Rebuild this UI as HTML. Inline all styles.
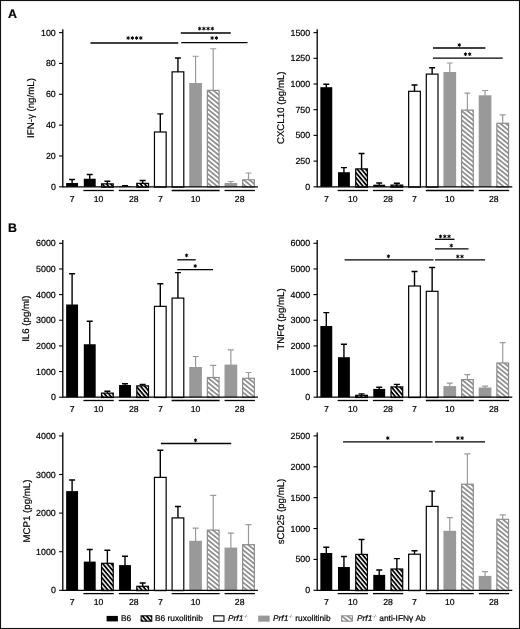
<!DOCTYPE html>
<html><head><meta charset="utf-8"><title>Figure</title>
<style>html,body{margin:0;padding:0;background:#fff;}body{width:520px;height:629px;overflow:hidden;position:relative;font-family:"Liberation Sans", sans-serif;}</style>
</head><body>
<svg width="520" height="629" viewBox="0 0 520 629" style="display:block;position:absolute;left:0;top:0;will-change:transform;filter:blur(0.3px)" font-family='"Liberation Sans", sans-serif' text-rendering="geometricPrecision">
<style>text{stroke:#000;stroke-width:0.2px;paint-order:stroke}</style>
<defs>
<pattern id="hk" patternUnits="userSpaceOnUse" width="10" height="3.25" patternTransform="rotate(50)"><rect width="10" height="3.25" fill="#fff"/><rect y="0" width="10" height="1.8" fill="#000"/></pattern>
<pattern id="hg" patternUnits="userSpaceOnUse" width="10" height="3.6" patternTransform="rotate(39)"><rect width="10" height="3.6" fill="#fff"/><rect y="0" width="10" height="1.65" fill="#888"/></pattern>
</defs>
<rect x="0" y="0" width="520" height="629" fill="#fff"/>
<path d="M72.10 183.50V179.50M69.10 179.50H75.10" stroke="#000" stroke-width="1.4" fill="none"/>
<path d="M89.74 179.25V174.50M86.74 174.50H92.74" stroke="#000" stroke-width="1.4" fill="none"/>
<path d="M107.38 184.25V181.25M104.38 181.25H110.38" stroke="#000" stroke-width="1.4" fill="none"/>
<path d="M125.02 186.70V185.70M122.02 185.70H128.02" stroke="#000" stroke-width="1.4" fill="none"/>
<path d="M142.66 183.75V180.50M139.66 180.50H145.66" stroke="#000" stroke-width="1.4" fill="none"/>
<path d="M160.30 132.40V113.90M157.30 113.90H163.30" stroke="#000" stroke-width="1.4" fill="none"/>
<path d="M177.94 72.25V58.00M174.94 58.00H180.94" stroke="#000" stroke-width="1.4" fill="none"/>
<path d="M195.58 83.50V56.25M192.58 56.25H198.58" stroke="#9a9a9a" stroke-width="1.2" fill="none"/>
<path d="M213.22 90.80V48.75M210.22 48.75H216.22" stroke="#9a9a9a" stroke-width="1.2" fill="none"/>
<path d="M230.86 183.50V181.50M227.86 181.50H233.86" stroke="#9a9a9a" stroke-width="1.2" fill="none"/>
<path d="M248.50 180.20V173.00M245.50 173.00H251.50" stroke="#9a9a9a" stroke-width="1.2" fill="none"/>
<rect x="66.15" y="183.00" width="11.9" height="3.80" fill="#000"/>
<rect x="83.79" y="178.75" width="11.9" height="8.05" fill="#000"/>
<rect x="101.53" y="183.85" width="11.70" height="3.25" fill="url(#hk)" stroke="#000" stroke-width="1.2"/>
<rect x="119.07" y="186.20" width="11.9" height="0.60" fill="#000"/>
<rect x="136.81" y="183.35" width="11.70" height="3.75" fill="url(#hk)" stroke="#000" stroke-width="1.2"/>
<rect x="154.45" y="132.00" width="11.70" height="55.10" fill="#fff" stroke="#000" stroke-width="1.2"/>
<rect x="172.09" y="71.85" width="11.70" height="115.25" fill="#fff" stroke="#000" stroke-width="1.2"/>
<rect x="189.23" y="83.00" width="12.7" height="103.80" fill="#999"/>
<rect x="207.37" y="90.40" width="11.70" height="96.70" fill="url(#hg)" stroke="#8c8c8c" stroke-width="1.2"/>
<rect x="224.51" y="183.00" width="12.7" height="3.80" fill="#999"/>
<rect x="242.65" y="179.80" width="11.70" height="7.30" fill="url(#hg)" stroke="#8c8c8c" stroke-width="1.2"/>
<path d="M62.8 29.20V187.45M62.15 186.8H257.9" stroke="#000" stroke-width="1.3" fill="none"/>
<path d="M59.10 186.80H62.8" stroke="#000" stroke-width="1.1"/>
<text x="55.80" y="189.80" font-size="8.85" text-anchor="end" fill="#000">0</text>
<path d="M59.10 155.96H62.8" stroke="#000" stroke-width="1.1"/>
<text x="55.80" y="158.96" font-size="8.85" text-anchor="end" fill="#000">20</text>
<path d="M59.10 125.12H62.8" stroke="#000" stroke-width="1.1"/>
<text x="55.80" y="128.12" font-size="8.85" text-anchor="end" fill="#000">40</text>
<path d="M59.10 94.28H62.8" stroke="#000" stroke-width="1.1"/>
<text x="55.80" y="97.28" font-size="8.85" text-anchor="end" fill="#000">60</text>
<path d="M59.10 63.44H62.8" stroke="#000" stroke-width="1.1"/>
<text x="55.80" y="66.44" font-size="8.85" text-anchor="end" fill="#000">80</text>
<path d="M59.10 32.60H62.8" stroke="#000" stroke-width="1.1"/>
<text x="55.80" y="35.60" font-size="8.85" text-anchor="end" fill="#000">100</text>
<text transform="translate(33.8,108) rotate(-90)" font-size="9.7" text-anchor="middle" fill="#000">IFN-γ (ng/mL)</text>
<path d="M83.44 190.50H113.78" stroke="#000" stroke-width="1.3"/>
<path d="M118.72 190.50H149.06" stroke="#000" stroke-width="1.3"/>
<path d="M171.64 190.50H219.62" stroke="#000" stroke-width="1.3"/>
<path d="M224.56 190.50H254.90" stroke="#000" stroke-width="1.3"/>
<text x="72.10" y="201.70" font-size="8.7" text-anchor="middle" fill="#000">7</text>
<text x="98.56" y="201.70" font-size="8.7" text-anchor="middle" fill="#000">10</text>
<text x="133.84" y="201.70" font-size="8.7" text-anchor="middle" fill="#000">28</text>
<text x="160.30" y="201.70" font-size="8.7" text-anchor="middle" fill="#000">7</text>
<text x="195.58" y="201.70" font-size="8.7" text-anchor="middle" fill="#000">10</text>
<text x="239.68" y="201.70" font-size="8.7" text-anchor="middle" fill="#000">28</text>
<path d="M90.5 43H178.25" stroke="#000" stroke-width="1.3"/>
<path d="M128.16 36.55V39.45M126.91 37.28L129.41 38.72M126.91 38.72L129.41 37.28" stroke="#000" stroke-width="1.0" stroke-linecap="round" fill="none"/>
<path d="M132.38 36.55V39.45M131.13 37.28L133.63 38.72M131.13 38.72L133.63 37.28" stroke="#000" stroke-width="1.0" stroke-linecap="round" fill="none"/>
<path d="M136.62 36.55V39.45M135.37 37.28L137.87 38.72M135.37 38.72L137.87 37.28" stroke="#000" stroke-width="1.0" stroke-linecap="round" fill="none"/>
<path d="M140.84 36.55V39.45M139.59 37.28L142.09 38.72M139.59 38.72L142.09 37.28" stroke="#000" stroke-width="1.0" stroke-linecap="round" fill="none"/>
<path d="M180.75 33.0H230.75" stroke="#000" stroke-width="1.3"/>
<path d="M199.66 27.15V30.05M198.41 27.88L200.91 29.32M198.41 29.32L200.91 27.88" stroke="#000" stroke-width="1.0" stroke-linecap="round" fill="none"/>
<path d="M203.88 27.15V30.05M202.63 27.88L205.13 29.32M202.63 29.32L205.13 27.88" stroke="#000" stroke-width="1.0" stroke-linecap="round" fill="none"/>
<path d="M208.12 27.15V30.05M206.87 27.88L209.37 29.32M206.87 29.32L209.37 27.88" stroke="#000" stroke-width="1.0" stroke-linecap="round" fill="none"/>
<path d="M212.34 27.15V30.05M211.09 27.88L213.59 29.32M211.09 29.32L213.59 27.88" stroke="#000" stroke-width="1.0" stroke-linecap="round" fill="none"/>
<path d="M181.25 42.7H247.5" stroke="#000" stroke-width="1.3"/>
<path d="M212.13 36.55V39.45M210.88 37.28L213.38 38.72M210.88 38.72L213.38 37.28" stroke="#000" stroke-width="1.0" stroke-linecap="round" fill="none"/>
<path d="M216.37 36.55V39.45M215.12 37.28L217.62 38.72M215.12 38.72L217.62 37.28" stroke="#000" stroke-width="1.0" stroke-linecap="round" fill="none"/>
<path d="M326.30 87.70V84.30M323.30 84.30H329.30" stroke="#000" stroke-width="1.4" fill="none"/>
<path d="M343.94 172.70V167.60M340.94 167.60H346.94" stroke="#000" stroke-width="1.4" fill="none"/>
<path d="M361.58 169.30V153.50M358.58 153.50H364.58" stroke="#000" stroke-width="1.4" fill="none"/>
<path d="M379.22 185.20V183.00M376.22 183.00H382.22" stroke="#000" stroke-width="1.4" fill="none"/>
<path d="M396.86 185.50V183.30M393.86 183.30H399.86" stroke="#000" stroke-width="1.4" fill="none"/>
<path d="M414.50 91.70V85.00M411.50 85.00H417.50" stroke="#000" stroke-width="1.4" fill="none"/>
<path d="M432.14 74.50V67.70M429.14 67.70H435.14" stroke="#000" stroke-width="1.4" fill="none"/>
<path d="M449.78 72.50V63.00M446.78 63.00H452.78" stroke="#9a9a9a" stroke-width="1.2" fill="none"/>
<path d="M467.42 110.50V93.20M464.42 93.20H470.42" stroke="#9a9a9a" stroke-width="1.2" fill="none"/>
<path d="M485.06 95.80V90.50M482.06 90.50H488.06" stroke="#9a9a9a" stroke-width="1.2" fill="none"/>
<path d="M502.70 123.70V114.90M499.70 114.90H505.70" stroke="#9a9a9a" stroke-width="1.2" fill="none"/>
<rect x="320.35" y="87.20" width="11.9" height="99.60" fill="#000"/>
<rect x="337.99" y="172.20" width="11.9" height="14.60" fill="#000"/>
<rect x="355.73" y="168.90" width="11.70" height="18.20" fill="url(#hk)" stroke="#000" stroke-width="1.2"/>
<rect x="373.27" y="184.70" width="11.9" height="2.10" fill="#000"/>
<rect x="391.01" y="185.10" width="11.70" height="2.00" fill="url(#hk)" stroke="#000" stroke-width="1.2"/>
<rect x="408.65" y="91.30" width="11.70" height="95.80" fill="#fff" stroke="#000" stroke-width="1.2"/>
<rect x="426.29" y="74.10" width="11.70" height="113.00" fill="#fff" stroke="#000" stroke-width="1.2"/>
<rect x="443.43" y="72.00" width="12.7" height="114.80" fill="#999"/>
<rect x="461.57" y="110.10" width="11.70" height="77.00" fill="url(#hg)" stroke="#8c8c8c" stroke-width="1.2"/>
<rect x="478.71" y="95.30" width="12.7" height="91.50" fill="#999"/>
<rect x="496.85" y="123.30" width="11.70" height="63.80" fill="url(#hg)" stroke="#8c8c8c" stroke-width="1.2"/>
<path d="M317.2 29.20V187.45M316.55 186.8H512.3" stroke="#000" stroke-width="1.3" fill="none"/>
<path d="M313.50 186.80H317.2" stroke="#000" stroke-width="1.1"/>
<text x="310.20" y="189.80" font-size="8.85" text-anchor="end" fill="#000">0</text>
<path d="M313.50 161.10H317.2" stroke="#000" stroke-width="1.1"/>
<text x="310.20" y="164.10" font-size="8.85" text-anchor="end" fill="#000">250</text>
<path d="M313.50 135.40H317.2" stroke="#000" stroke-width="1.1"/>
<text x="310.20" y="138.40" font-size="8.85" text-anchor="end" fill="#000">500</text>
<path d="M313.50 109.70H317.2" stroke="#000" stroke-width="1.1"/>
<text x="310.20" y="112.70" font-size="8.85" text-anchor="end" fill="#000">750</text>
<path d="M313.50 84.00H317.2" stroke="#000" stroke-width="1.1"/>
<text x="310.20" y="87.00" font-size="8.85" text-anchor="end" fill="#000">1000</text>
<path d="M313.50 58.30H317.2" stroke="#000" stroke-width="1.1"/>
<text x="310.20" y="61.30" font-size="8.85" text-anchor="end" fill="#000">1250</text>
<path d="M313.50 32.60H317.2" stroke="#000" stroke-width="1.1"/>
<text x="310.20" y="35.60" font-size="8.85" text-anchor="end" fill="#000">1500</text>
<text transform="translate(284.3,107.75) rotate(-90)" font-size="9.7" text-anchor="middle" fill="#000">CXCL10 (pg/mL)</text>
<path d="M337.64 190.50H367.98" stroke="#000" stroke-width="1.3"/>
<path d="M372.92 190.50H403.26" stroke="#000" stroke-width="1.3"/>
<path d="M425.84 190.50H473.82" stroke="#000" stroke-width="1.3"/>
<path d="M478.76 190.50H509.10" stroke="#000" stroke-width="1.3"/>
<text x="326.30" y="201.70" font-size="8.7" text-anchor="middle" fill="#000">7</text>
<text x="352.76" y="201.70" font-size="8.7" text-anchor="middle" fill="#000">10</text>
<text x="388.04" y="201.70" font-size="8.7" text-anchor="middle" fill="#000">28</text>
<text x="414.50" y="201.70" font-size="8.7" text-anchor="middle" fill="#000">7</text>
<text x="449.78" y="201.70" font-size="8.7" text-anchor="middle" fill="#000">10</text>
<text x="493.88" y="201.70" font-size="8.7" text-anchor="middle" fill="#000">28</text>
<path d="M433 48H485.4" stroke="#000" stroke-width="1.3"/>
<path d="M459.30 43.55V46.45M458.05 44.28L460.55 45.72M458.05 45.72L460.55 44.28" stroke="#000" stroke-width="1.0" stroke-linecap="round" fill="none"/>
<path d="M433 58.2H502.7" stroke="#000" stroke-width="1.3"/>
<path d="M465.49 52.75V55.65M464.24 53.48L466.74 54.92M464.24 54.92L466.74 53.48" stroke="#000" stroke-width="1.0" stroke-linecap="round" fill="none"/>
<path d="M469.72 52.75V55.65M468.47 53.48L470.97 54.92M468.47 54.92L470.97 53.48" stroke="#000" stroke-width="1.0" stroke-linecap="round" fill="none"/>
<path d="M72.10 305.00V273.75M69.10 273.75H75.10" stroke="#000" stroke-width="1.4" fill="none"/>
<path d="M89.74 344.75V321.25M86.74 321.25H92.74" stroke="#000" stroke-width="1.4" fill="none"/>
<path d="M107.38 393.50V391.25M104.38 391.25H110.38" stroke="#000" stroke-width="1.4" fill="none"/>
<path d="M125.02 385.50V383.75M122.02 383.75H128.02" stroke="#000" stroke-width="1.4" fill="none"/>
<path d="M142.66 386.25V384.50M139.66 384.50H145.66" stroke="#000" stroke-width="1.4" fill="none"/>
<path d="M160.30 306.75V283.75M157.30 283.75H163.30" stroke="#000" stroke-width="1.4" fill="none"/>
<path d="M177.94 298.50V272.60M174.94 272.60H180.94" stroke="#000" stroke-width="1.4" fill="none"/>
<path d="M195.58 367.50V356.50M192.58 356.50H198.58" stroke="#9a9a9a" stroke-width="1.2" fill="none"/>
<path d="M213.22 377.90V365.40M210.22 365.40H216.22" stroke="#9a9a9a" stroke-width="1.2" fill="none"/>
<path d="M230.86 365.10V349.80M227.86 349.80H233.86" stroke="#9a9a9a" stroke-width="1.2" fill="none"/>
<path d="M248.50 378.70V372.50M245.50 372.50H251.50" stroke="#9a9a9a" stroke-width="1.2" fill="none"/>
<rect x="66.15" y="304.50" width="11.9" height="92.70" fill="#000"/>
<rect x="83.79" y="344.25" width="11.9" height="52.95" fill="#000"/>
<rect x="101.53" y="393.10" width="11.70" height="4.40" fill="url(#hk)" stroke="#000" stroke-width="1.2"/>
<rect x="119.07" y="385.00" width="11.9" height="12.20" fill="#000"/>
<rect x="136.81" y="385.85" width="11.70" height="11.65" fill="url(#hk)" stroke="#000" stroke-width="1.2"/>
<rect x="154.45" y="306.35" width="11.70" height="91.15" fill="#fff" stroke="#000" stroke-width="1.2"/>
<rect x="172.09" y="298.10" width="11.70" height="99.40" fill="#fff" stroke="#000" stroke-width="1.2"/>
<rect x="189.23" y="367.00" width="12.7" height="30.20" fill="#999"/>
<rect x="207.37" y="377.50" width="11.70" height="20.00" fill="url(#hg)" stroke="#8c8c8c" stroke-width="1.2"/>
<rect x="224.51" y="364.60" width="12.7" height="32.60" fill="#999"/>
<rect x="242.65" y="378.30" width="11.70" height="19.20" fill="url(#hg)" stroke="#8c8c8c" stroke-width="1.2"/>
<path d="M62.8 239.90V397.85M62.15 397.2H257.9" stroke="#000" stroke-width="1.3" fill="none"/>
<path d="M59.10 397.20H62.8" stroke="#000" stroke-width="1.1"/>
<text x="55.80" y="400.20" font-size="8.85" text-anchor="end" fill="#000">0</text>
<path d="M59.10 371.55H62.8" stroke="#000" stroke-width="1.1"/>
<text x="55.80" y="374.55" font-size="8.85" text-anchor="end" fill="#000">1000</text>
<path d="M59.10 345.90H62.8" stroke="#000" stroke-width="1.1"/>
<text x="55.80" y="348.90" font-size="8.85" text-anchor="end" fill="#000">2000</text>
<path d="M59.10 320.25H62.8" stroke="#000" stroke-width="1.1"/>
<text x="55.80" y="323.25" font-size="8.85" text-anchor="end" fill="#000">3000</text>
<path d="M59.10 294.60H62.8" stroke="#000" stroke-width="1.1"/>
<text x="55.80" y="297.60" font-size="8.85" text-anchor="end" fill="#000">4000</text>
<path d="M59.10 268.95H62.8" stroke="#000" stroke-width="1.1"/>
<text x="55.80" y="271.95" font-size="8.85" text-anchor="end" fill="#000">5000</text>
<path d="M59.10 243.30H62.8" stroke="#000" stroke-width="1.1"/>
<text x="55.80" y="246.30" font-size="8.85" text-anchor="end" fill="#000">6000</text>
<text transform="translate(29.1,318.7) rotate(-90)" font-size="9.7" text-anchor="middle" fill="#000">IL6 (pg/ml)</text>
<path d="M83.44 400.50H113.78" stroke="#000" stroke-width="1.3"/>
<path d="M118.72 400.50H149.06" stroke="#000" stroke-width="1.3"/>
<path d="M171.64 400.50H219.62" stroke="#000" stroke-width="1.3"/>
<path d="M224.56 400.50H254.90" stroke="#000" stroke-width="1.3"/>
<text x="72.10" y="412.10" font-size="8.7" text-anchor="middle" fill="#000">7</text>
<text x="98.56" y="412.10" font-size="8.7" text-anchor="middle" fill="#000">10</text>
<text x="133.84" y="412.10" font-size="8.7" text-anchor="middle" fill="#000">28</text>
<text x="160.30" y="412.10" font-size="8.7" text-anchor="middle" fill="#000">7</text>
<text x="195.58" y="412.10" font-size="8.7" text-anchor="middle" fill="#000">10</text>
<text x="239.68" y="412.10" font-size="8.7" text-anchor="middle" fill="#000">28</text>
<path d="M177.3 259.8H195.7" stroke="#000" stroke-width="1.3"/>
<path d="M186.60 253.95V256.85M185.35 254.68L187.85 256.12M185.35 256.12L187.85 254.68" stroke="#000" stroke-width="1.0" stroke-linecap="round" fill="none"/>
<path d="M177.3 269.7H213" stroke="#000" stroke-width="1.3"/>
<path d="M195.20 264.55V267.45M193.95 265.28L196.45 266.72M193.95 266.72L196.45 265.28" stroke="#000" stroke-width="1.0" stroke-linecap="round" fill="none"/>
<path d="M326.30 326.50V312.60M323.30 312.60H329.30" stroke="#000" stroke-width="1.4" fill="none"/>
<path d="M343.94 357.70V344.30M340.94 344.30H346.94" stroke="#000" stroke-width="1.4" fill="none"/>
<path d="M361.58 395.70V393.90M358.58 393.90H364.58" stroke="#000" stroke-width="1.4" fill="none"/>
<path d="M379.22 389.40V387.30M376.22 387.30H382.22" stroke="#000" stroke-width="1.4" fill="none"/>
<path d="M396.86 387.30V384.40M393.86 384.40H399.86" stroke="#000" stroke-width="1.4" fill="none"/>
<path d="M414.50 286.40V271.50M411.50 271.50H417.50" stroke="#000" stroke-width="1.4" fill="none"/>
<path d="M432.14 291.70V267.50M429.14 267.50H435.14" stroke="#000" stroke-width="1.4" fill="none"/>
<path d="M449.78 386.60V383.20M446.78 383.20H452.78" stroke="#9a9a9a" stroke-width="1.2" fill="none"/>
<path d="M467.42 380.00V374.60M464.42 374.60H470.42" stroke="#9a9a9a" stroke-width="1.2" fill="none"/>
<path d="M485.06 388.00V386.10M482.06 386.10H488.06" stroke="#9a9a9a" stroke-width="1.2" fill="none"/>
<path d="M502.70 363.40V342.60M499.70 342.60H505.70" stroke="#9a9a9a" stroke-width="1.2" fill="none"/>
<rect x="320.35" y="326.00" width="11.9" height="71.20" fill="#000"/>
<rect x="337.99" y="357.20" width="11.9" height="40.00" fill="#000"/>
<rect x="355.73" y="395.30" width="11.70" height="2.20" fill="url(#hk)" stroke="#000" stroke-width="1.2"/>
<rect x="373.27" y="388.90" width="11.9" height="8.30" fill="#000"/>
<rect x="391.01" y="386.90" width="11.70" height="10.60" fill="url(#hk)" stroke="#000" stroke-width="1.2"/>
<rect x="408.65" y="286.00" width="11.70" height="111.50" fill="#fff" stroke="#000" stroke-width="1.2"/>
<rect x="426.29" y="291.30" width="11.70" height="106.20" fill="#fff" stroke="#000" stroke-width="1.2"/>
<rect x="443.43" y="386.10" width="12.7" height="11.10" fill="#999"/>
<rect x="461.57" y="379.60" width="11.70" height="17.90" fill="url(#hg)" stroke="#8c8c8c" stroke-width="1.2"/>
<rect x="478.71" y="387.50" width="12.7" height="9.70" fill="#999"/>
<rect x="496.85" y="363.00" width="11.70" height="34.50" fill="url(#hg)" stroke="#8c8c8c" stroke-width="1.2"/>
<path d="M317.2 239.90V397.85M316.55 397.2H512.3" stroke="#000" stroke-width="1.3" fill="none"/>
<path d="M313.50 397.20H317.2" stroke="#000" stroke-width="1.1"/>
<text x="310.20" y="400.20" font-size="8.85" text-anchor="end" fill="#000">0</text>
<path d="M313.50 371.55H317.2" stroke="#000" stroke-width="1.1"/>
<text x="310.20" y="374.55" font-size="8.85" text-anchor="end" fill="#000">1000</text>
<path d="M313.50 345.90H317.2" stroke="#000" stroke-width="1.1"/>
<text x="310.20" y="348.90" font-size="8.85" text-anchor="end" fill="#000">2000</text>
<path d="M313.50 320.25H317.2" stroke="#000" stroke-width="1.1"/>
<text x="310.20" y="323.25" font-size="8.85" text-anchor="end" fill="#000">3000</text>
<path d="M313.50 294.60H317.2" stroke="#000" stroke-width="1.1"/>
<text x="310.20" y="297.60" font-size="8.85" text-anchor="end" fill="#000">4000</text>
<path d="M313.50 268.95H317.2" stroke="#000" stroke-width="1.1"/>
<text x="310.20" y="271.95" font-size="8.85" text-anchor="end" fill="#000">5000</text>
<path d="M313.50 243.30H317.2" stroke="#000" stroke-width="1.1"/>
<text x="310.20" y="246.30" font-size="8.85" text-anchor="end" fill="#000">6000</text>
<text transform="translate(283.5,319) rotate(-90)" font-size="9.7" text-anchor="middle" fill="#000">TNF<tspan font-size="11.2">α</tspan> (pg/mL)</text>
<path d="M337.64 400.50H367.98" stroke="#000" stroke-width="1.3"/>
<path d="M372.92 400.50H403.26" stroke="#000" stroke-width="1.3"/>
<path d="M425.84 400.50H473.82" stroke="#000" stroke-width="1.3"/>
<path d="M478.76 400.50H509.10" stroke="#000" stroke-width="1.3"/>
<text x="326.30" y="412.10" font-size="8.7" text-anchor="middle" fill="#000">7</text>
<text x="352.76" y="412.10" font-size="8.7" text-anchor="middle" fill="#000">10</text>
<text x="388.04" y="412.10" font-size="8.7" text-anchor="middle" fill="#000">28</text>
<text x="414.50" y="412.10" font-size="8.7" text-anchor="middle" fill="#000">7</text>
<text x="449.78" y="412.10" font-size="8.7" text-anchor="middle" fill="#000">10</text>
<text x="493.88" y="412.10" font-size="8.7" text-anchor="middle" fill="#000">28</text>
<path d="M344.6 259.9H433.6" stroke="#000" stroke-width="1.3"/>
<path d="M388.40 254.85V257.75M387.15 255.58L389.65 257.02M387.15 257.02L389.65 255.58" stroke="#000" stroke-width="1.0" stroke-linecap="round" fill="none"/>
<path d="M435 239.3H454.5" stroke="#000" stroke-width="1.3"/>
<path d="M440.57 234.95V237.85M439.32 235.68L441.82 237.12M439.32 237.12L441.82 235.68" stroke="#000" stroke-width="1.0" stroke-linecap="round" fill="none"/>
<path d="M444.80 234.95V237.85M443.55 235.68L446.05 237.12M443.55 237.12L446.05 235.68" stroke="#000" stroke-width="1.0" stroke-linecap="round" fill="none"/>
<path d="M449.03 234.95V237.85M447.78 235.68L450.28 237.12M447.78 237.12L450.28 235.68" stroke="#000" stroke-width="1.0" stroke-linecap="round" fill="none"/>
<path d="M435 248.9H468.5" stroke="#000" stroke-width="1.3"/>
<path d="M451.30 244.15V247.05M450.05 244.88L452.55 246.32M450.05 246.32L452.55 244.88" stroke="#000" stroke-width="1.0" stroke-linecap="round" fill="none"/>
<path d="M435 259.9H485.1" stroke="#000" stroke-width="1.3"/>
<path d="M457.78 255.05V257.95M456.53 255.78L459.03 257.22M456.53 257.22L459.03 255.78" stroke="#000" stroke-width="1.0" stroke-linecap="round" fill="none"/>
<path d="M462.01 255.05V257.95M460.76 255.78L463.26 257.22M460.76 257.22L463.26 255.78" stroke="#000" stroke-width="1.0" stroke-linecap="round" fill="none"/>
<path d="M72.10 491.60V480.00M69.10 480.00H75.10" stroke="#000" stroke-width="1.4" fill="none"/>
<path d="M89.74 562.10V549.50M86.74 549.50H92.74" stroke="#000" stroke-width="1.4" fill="none"/>
<path d="M107.38 563.70V550.30M104.38 550.30H110.38" stroke="#000" stroke-width="1.4" fill="none"/>
<path d="M125.02 565.60V556.20M122.02 556.20H128.02" stroke="#000" stroke-width="1.4" fill="none"/>
<path d="M142.66 586.70V583.00M139.66 583.00H145.66" stroke="#000" stroke-width="1.4" fill="none"/>
<path d="M160.30 477.80V450.30M157.30 450.30H163.30" stroke="#000" stroke-width="1.4" fill="none"/>
<path d="M177.94 518.30V506.50M174.94 506.50H180.94" stroke="#000" stroke-width="1.4" fill="none"/>
<path d="M195.58 541.30V528.10M192.58 528.10H198.58" stroke="#9a9a9a" stroke-width="1.2" fill="none"/>
<path d="M213.22 530.50V495.40M210.22 495.40H216.22" stroke="#9a9a9a" stroke-width="1.2" fill="none"/>
<path d="M230.86 548.10V533.20M227.86 533.20H233.86" stroke="#9a9a9a" stroke-width="1.2" fill="none"/>
<path d="M248.50 545.10V524.60M245.50 524.60H251.50" stroke="#9a9a9a" stroke-width="1.2" fill="none"/>
<rect x="66.15" y="491.10" width="11.9" height="99.20" fill="#000"/>
<rect x="83.79" y="561.60" width="11.9" height="28.70" fill="#000"/>
<rect x="101.53" y="563.30" width="11.70" height="27.30" fill="url(#hk)" stroke="#000" stroke-width="1.2"/>
<rect x="119.07" y="565.10" width="11.9" height="25.20" fill="#000"/>
<rect x="136.81" y="586.30" width="11.70" height="4.30" fill="url(#hk)" stroke="#000" stroke-width="1.2"/>
<rect x="154.45" y="477.40" width="11.70" height="113.20" fill="#fff" stroke="#000" stroke-width="1.2"/>
<rect x="172.09" y="517.90" width="11.70" height="72.70" fill="#fff" stroke="#000" stroke-width="1.2"/>
<rect x="189.23" y="540.80" width="12.7" height="49.50" fill="#999"/>
<rect x="207.37" y="530.10" width="11.70" height="60.50" fill="url(#hg)" stroke="#8c8c8c" stroke-width="1.2"/>
<rect x="224.51" y="547.60" width="12.7" height="42.70" fill="#999"/>
<rect x="242.65" y="544.70" width="11.70" height="45.90" fill="url(#hg)" stroke="#8c8c8c" stroke-width="1.2"/>
<path d="M62.8 432.50V590.95M62.15 590.3H257.9" stroke="#000" stroke-width="1.3" fill="none"/>
<path d="M59.10 590.30H62.8" stroke="#000" stroke-width="1.1"/>
<text x="55.80" y="593.30" font-size="8.85" text-anchor="end" fill="#000">0</text>
<path d="M59.10 551.70H62.8" stroke="#000" stroke-width="1.1"/>
<text x="55.80" y="554.70" font-size="8.85" text-anchor="end" fill="#000">1000</text>
<path d="M59.10 513.10H62.8" stroke="#000" stroke-width="1.1"/>
<text x="55.80" y="516.10" font-size="8.85" text-anchor="end" fill="#000">2000</text>
<path d="M59.10 474.50H62.8" stroke="#000" stroke-width="1.1"/>
<text x="55.80" y="477.50" font-size="8.85" text-anchor="end" fill="#000">3000</text>
<path d="M59.10 435.90H62.8" stroke="#000" stroke-width="1.1"/>
<text x="55.80" y="438.90" font-size="8.85" text-anchor="end" fill="#000">4000</text>
<text transform="translate(29.5,511.1) rotate(-90)" font-size="9.7" text-anchor="middle" fill="#000">MCP1 (pg/mL)</text>
<path d="M83.44 593.60H113.78" stroke="#000" stroke-width="1.3"/>
<path d="M118.72 593.60H149.06" stroke="#000" stroke-width="1.3"/>
<path d="M171.64 593.60H219.62" stroke="#000" stroke-width="1.3"/>
<path d="M224.56 593.60H254.90" stroke="#000" stroke-width="1.3"/>
<text x="72.10" y="605.20" font-size="8.7" text-anchor="middle" fill="#000">7</text>
<text x="98.56" y="605.20" font-size="8.7" text-anchor="middle" fill="#000">10</text>
<text x="133.84" y="605.20" font-size="8.7" text-anchor="middle" fill="#000">28</text>
<text x="160.30" y="605.20" font-size="8.7" text-anchor="middle" fill="#000">7</text>
<text x="195.58" y="605.20" font-size="8.7" text-anchor="middle" fill="#000">10</text>
<text x="239.68" y="605.20" font-size="8.7" text-anchor="middle" fill="#000">28</text>
<path d="M160.9 443.5H231.2" stroke="#000" stroke-width="1.3"/>
<path d="M195.50 438.85V441.75M194.25 439.58L196.75 441.02M194.25 441.02L196.75 439.58" stroke="#000" stroke-width="1.0" stroke-linecap="round" fill="none"/>
<path d="M326.30 553.50V547.30M323.30 547.30H329.30" stroke="#000" stroke-width="1.4" fill="none"/>
<path d="M343.94 567.50V556.50M340.94 556.50H346.94" stroke="#000" stroke-width="1.4" fill="none"/>
<path d="M361.58 554.80V539.50M358.58 539.50H364.58" stroke="#000" stroke-width="1.4" fill="none"/>
<path d="M379.22 575.40V570.00M376.22 570.00H382.22" stroke="#000" stroke-width="1.4" fill="none"/>
<path d="M396.86 569.40V558.60M393.86 558.60H399.86" stroke="#000" stroke-width="1.4" fill="none"/>
<path d="M414.50 554.60V550.80M411.50 550.80H417.50" stroke="#000" stroke-width="1.4" fill="none"/>
<path d="M432.14 506.80V491.10M429.14 491.10H435.14" stroke="#000" stroke-width="1.4" fill="none"/>
<path d="M449.78 531.30V517.60M446.78 517.60H452.78" stroke="#9a9a9a" stroke-width="1.2" fill="none"/>
<path d="M467.42 484.60V453.80M464.42 453.80H470.42" stroke="#9a9a9a" stroke-width="1.2" fill="none"/>
<path d="M485.06 576.40V571.60M482.06 571.60H488.06" stroke="#9a9a9a" stroke-width="1.2" fill="none"/>
<path d="M502.70 519.70V514.90M499.70 514.90H505.70" stroke="#9a9a9a" stroke-width="1.2" fill="none"/>
<rect x="320.35" y="553.00" width="11.9" height="37.30" fill="#000"/>
<rect x="337.99" y="567.00" width="11.9" height="23.30" fill="#000"/>
<rect x="355.73" y="554.40" width="11.70" height="36.20" fill="url(#hk)" stroke="#000" stroke-width="1.2"/>
<rect x="373.27" y="574.90" width="11.9" height="15.40" fill="#000"/>
<rect x="391.01" y="569.00" width="11.70" height="21.60" fill="url(#hk)" stroke="#000" stroke-width="1.2"/>
<rect x="408.65" y="554.20" width="11.70" height="36.40" fill="#fff" stroke="#000" stroke-width="1.2"/>
<rect x="426.29" y="506.40" width="11.70" height="84.20" fill="#fff" stroke="#000" stroke-width="1.2"/>
<rect x="443.43" y="530.80" width="12.7" height="59.50" fill="#999"/>
<rect x="461.57" y="484.20" width="11.70" height="106.40" fill="url(#hg)" stroke="#8c8c8c" stroke-width="1.2"/>
<rect x="478.71" y="575.90" width="12.7" height="14.40" fill="#999"/>
<rect x="496.85" y="519.30" width="11.70" height="71.30" fill="url(#hg)" stroke="#8c8c8c" stroke-width="1.2"/>
<path d="M317.2 432.50V590.95M316.55 590.3H512.3" stroke="#000" stroke-width="1.3" fill="none"/>
<path d="M313.50 590.30H317.2" stroke="#000" stroke-width="1.1"/>
<text x="310.20" y="593.30" font-size="8.85" text-anchor="end" fill="#000">0</text>
<path d="M313.50 559.42H317.2" stroke="#000" stroke-width="1.1"/>
<text x="310.20" y="562.42" font-size="8.85" text-anchor="end" fill="#000">500</text>
<path d="M313.50 528.54H317.2" stroke="#000" stroke-width="1.1"/>
<text x="310.20" y="531.54" font-size="8.85" text-anchor="end" fill="#000">1000</text>
<path d="M313.50 497.66H317.2" stroke="#000" stroke-width="1.1"/>
<text x="310.20" y="500.66" font-size="8.85" text-anchor="end" fill="#000">1500</text>
<path d="M313.50 466.78H317.2" stroke="#000" stroke-width="1.1"/>
<text x="310.20" y="469.78" font-size="8.85" text-anchor="end" fill="#000">2000</text>
<path d="M313.50 435.90H317.2" stroke="#000" stroke-width="1.1"/>
<text x="310.20" y="438.90" font-size="8.85" text-anchor="end" fill="#000">2500</text>
<text transform="translate(284.1,511.5) rotate(-90)" font-size="9.7" text-anchor="middle" fill="#000">sCD25 (pg/mL)</text>
<path d="M337.64 593.60H367.98" stroke="#000" stroke-width="1.3"/>
<path d="M372.92 593.60H403.26" stroke="#000" stroke-width="1.3"/>
<path d="M425.84 593.60H473.82" stroke="#000" stroke-width="1.3"/>
<path d="M478.76 593.60H509.10" stroke="#000" stroke-width="1.3"/>
<text x="326.30" y="605.20" font-size="8.7" text-anchor="middle" fill="#000">7</text>
<text x="352.76" y="605.20" font-size="8.7" text-anchor="middle" fill="#000">10</text>
<text x="388.04" y="605.20" font-size="8.7" text-anchor="middle" fill="#000">28</text>
<text x="414.50" y="605.20" font-size="8.7" text-anchor="middle" fill="#000">7</text>
<text x="449.78" y="605.20" font-size="8.7" text-anchor="middle" fill="#000">10</text>
<text x="493.88" y="605.20" font-size="8.7" text-anchor="middle" fill="#000">28</text>
<path d="M343 441.9H432.6" stroke="#000" stroke-width="1.3"/>
<path d="M387.80 436.65V439.55M386.55 437.38L389.05 438.82M386.55 438.82L389.05 437.38" stroke="#000" stroke-width="1.0" stroke-linecap="round" fill="none"/>
<path d="M434.9 441.9H485.1" stroke="#000" stroke-width="1.3"/>
<path d="M457.88 436.65V439.55M456.63 437.38L459.13 438.82M456.63 438.82L459.13 437.38" stroke="#000" stroke-width="1.0" stroke-linecap="round" fill="none"/>
<path d="M462.12 436.65V439.55M460.87 437.38L463.37 438.82M460.87 438.82L463.37 437.38" stroke="#000" stroke-width="1.0" stroke-linecap="round" fill="none"/>
<text x="7.9" y="17.5" font-size="12.4" font-weight="bold" fill="#000">A</text>
<text x="8.0" y="231.5" font-size="12.4" font-weight="bold" fill="#000">B</text>
<rect x="106.6" y="615.9" width="11.30" height="5.50" fill="#000"/>
<text x="121.0" y="621.1" font-size="8.35" fill="#000">B6</text>
<rect x="141.12" y="615.82" width="10.65" height="5.35" fill="url(#hk)" stroke="#000" stroke-width="1.05"/>
<text x="155.0" y="621.1" font-size="8.35" fill="#000">B6 ruxolitinib</text>
<rect x="213.72" y="615.82" width="10.25" height="5.35" fill="#fff" stroke="#000" stroke-width="1.05"/>
<text x="228" y="621.1" font-size="8.35" fill="#000"><tspan font-style="italic">Prf1</tspan><tspan font-size="5.0" dy="-3.3" font-style="italic" fill="#444" stroke="none">-/-</tspan></text>
<rect x="258.2" y="615.6" width="11.50" height="6.10" fill="#999"/>
<text x="273" y="621.1" font-size="8.35" fill="#000"><tspan font-style="italic">Prf1</tspan><tspan font-size="5.0" dy="-3.3" font-style="italic" fill="#444" stroke="none">-/-</tspan><tspan dy="3.3" dx="2.3">ruxolitinib</tspan></text>
<rect x="341.62" y="615.82" width="10.75" height="5.35" fill="url(#hg)" stroke="#8c8c8c" stroke-width="1.05"/>
<text x="357" y="621.1" font-size="8.35" fill="#000"><tspan font-style="italic">Prf1</tspan><tspan font-size="5.0" dy="-3.3" font-style="italic" fill="#444" stroke="none">-/-</tspan><tspan dy="3.3" dx="2.3">anti-IFNγ Ab</tspan></text>
</svg>
<div style="position:absolute;left:0;top:0;width:518px;height:627px;border:1px solid #111;box-shadow:inset 0 0 0 0.5px rgba(0,0,0,0.12)"></div>
</body></html>
